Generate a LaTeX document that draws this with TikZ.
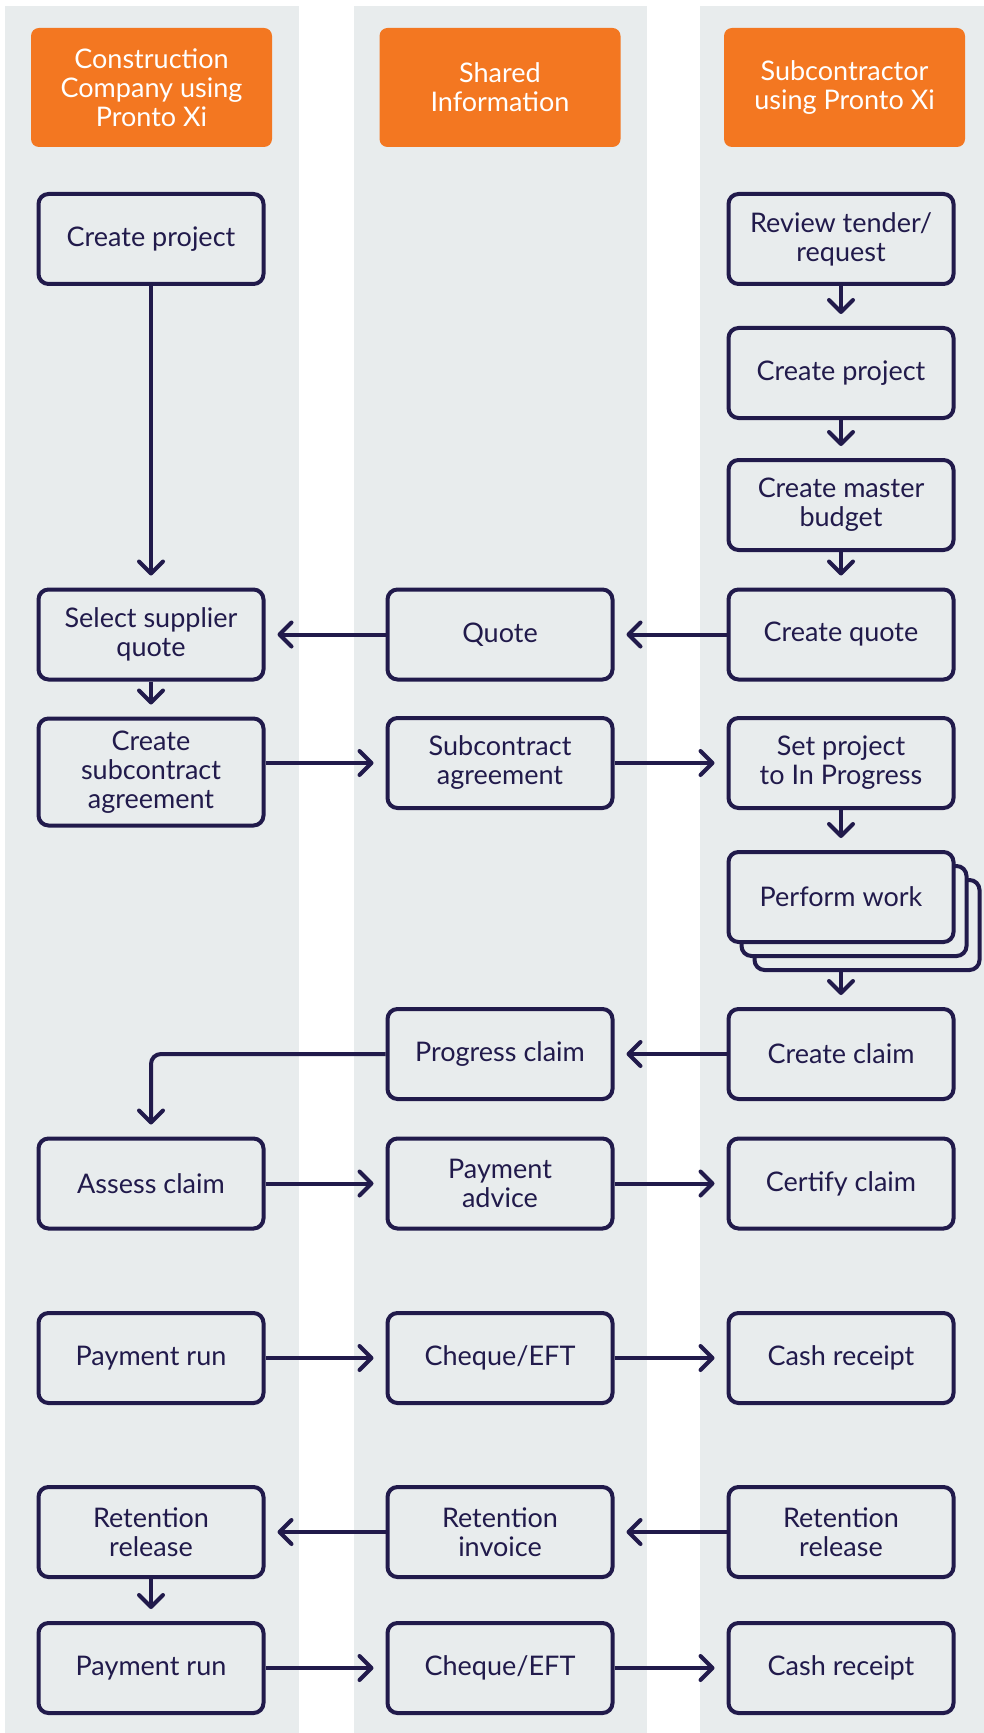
\documentclass[tikz,border=0pt]{standalone}
\usepackage{fontspec}
\setmainfont{Lato}
\usetikzlibrary{arrows.meta}
\definecolor{lanegray}{HTML}{E8ECED}
\definecolor{prontoorange}{HTML}{F37721}
\definecolor{inkblue}{HTML}{211A4B}

\begin{document}
\begin{tikzpicture}[x=0.5pt, y=-0.5pt,
    head/.style={fill=prontoorange, rounded corners=4pt, minimum width=120.5pt, minimum height=59.5pt,
      inner sep=0pt, text=white, align=center, font=\fontsize{13.5pt}{14.5pt}\selectfont},
    task/.style={draw=inkblue, line width=2pt, fill=lanegray, rounded corners=5pt, minimum width=112.5pt,
      minimum height=45pt, inner sep=0pt, text=inkblue, align=center, font=\fontsize{13.5pt}{14.5pt}\selectfont},
    flow/.style={draw=inkblue, line width=2pt, shorten >=6pt,
      -{Straight Barb[length=6pt, width=12pt, round]}}]
    \useasboundingbox (0,0) rectangle (984,1733);
    \fill[lanegray] (5,6) rectangle (299,1733);
    \fill[lanegray] (354,6) rectangle (647,1733);
    \fill[lanegray] (700,6) rectangle (984,1733);

    \node[head] (hcc) at (151.5,87.5) {Construction\\Company using\\Pronto Xi};
    \node[head] (hshared) at (500,87.5) {Shared\\Information};
    \node[head] (hsub) at (844.5,87.5) {Subcontractor\\using Pronto Xi};

    \node[task] (ccproj) at (151,239) {Create project};
    \node[task] (review) at (841,239) {Review tender/\\request};
    \node[task] (scproj) at (841,373) {Create project};
    \node[task] (budget) at (841,505) {Create master\\budget};
    \node[task] (select) at (151,634.5) {Select supplier\\quote};
    \node[task] (quote) at (500,634.5) {Quote};
    \node[task] (cquote) at (841,634.5) {Create quote};
    \node[task, minimum height=53.5pt] (csub) at (151,772) {Create\\subcontract\\agreement};
    \node[task] (sub) at (500,763) {Subcontract\\agreement};
    \node[task] (inprog) at (841,763) {Set project\\to In Progress};
    \node[task] (work3) at (867,925) {};
    \node[task] (work2) at (854,911) {};
    \node[task] (work) at (841,897) {Perform work};
    \node[task] (cclaim) at (841,1054) {Create claim};
    \node[task] (pclaim) at (500,1054) {Progress claim};
    \node[task] (assess) at (151,1183.5) {Assess claim};
    \node[task] (advice) at (500,1183.5) {Payment\\advice};
    \node[task] (certify) at (841,1183.5) {Certify claim};
    \node[task] (prun) at (151,1358) {Payment run};
    \node[task] (cheque) at (500,1358) {Cheque/EFT};
    \node[task] (cash) at (841,1358) {Cash receipt};
    \node[task] (ccrel) at (151,1532) {Retention\\release};
    \node[task] (rinv) at (500,1532) {Retention\\invoice};
    \node[task] (screl) at (841,1532) {Retention\\release};
    \node[task] (prun2) at (151,1668) {Payment run};
    \node[task] (cheque2) at (500,1668) {Cheque/EFT};
    \node[task] (cash2) at (841,1668) {Cash receipt};

    \draw[flow] (ccproj) -- (select);
    \draw[flow] (review) -- (scproj);
    \draw[flow] (scproj) -- (budget);
    \draw[flow] (budget) -- (cquote);
    \draw[flow] (cquote) -- (quote);
    \draw[flow] (quote) -- (select);
    \draw[flow] (select) -- (csub);
    \draw[flow] (csub.east |- sub) -- (sub);
    \draw[flow] (sub) -- (inprog);
    \draw[flow] (inprog) -- (work);
    \draw[flow] (work3.south -| work) -- (cclaim);
    \draw[flow] (cclaim) -- (pclaim);
    \draw[flow, rounded corners=5pt] (pclaim.west) -| (assess.north);
    \draw[flow] (assess) -- (advice);
    \draw[flow] (advice) -- (certify);
    \draw[flow] (prun) -- (cheque);
    \draw[flow] (cheque) -- (cash);
    \draw[flow] (screl) -- (rinv);
    \draw[flow] (rinv) -- (ccrel);
    \draw[flow] (ccrel) -- (prun2);
    \draw[flow] (prun2) -- (cheque2);
    \draw[flow] (cheque2) -- (cash2);
\end{tikzpicture}
\end{document}
